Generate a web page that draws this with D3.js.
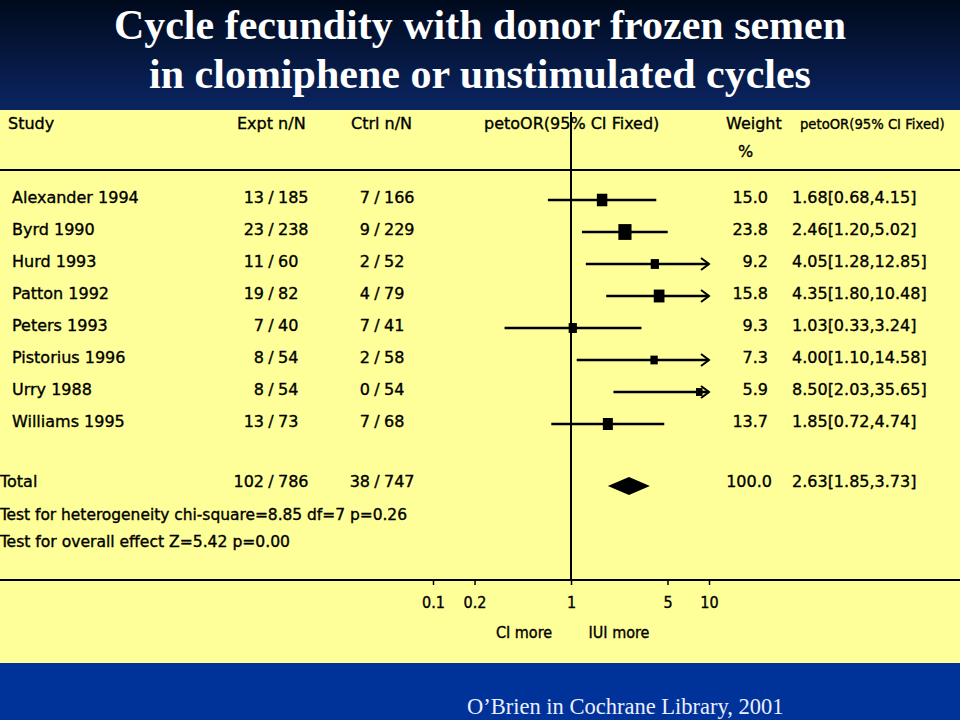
<!DOCTYPE html>
<html>
<head>
<meta charset="utf-8">
<script src="https://cdn.jsdelivr.net/npm/d3@7"></script>
<style>
  body { margin: 0; background: #000; }
  svg { display: block; }
</style>
</head>
<body>
<script>
const width = 960, height = 720;

// study rows
const studies = ["Alexander 1994", "Byrd 1990", "Hurd 1993", "Patton 1992", "Peters 1993", "Pistorius 1996", "Urry 1988", "Williams 1995"];
const exptEvents = [13, 23, 11, 19, 7, 8, 8, 13];
const exptTotals = [185, 238, 60, 82, 40, 54, 54, 73];
const ctrlEvents = [7, 9, 2, 4, 7, 2, 0, 7];
const ctrlTotals = [166, 229, 52, 79, 41, 58, 54, 68];
const weights = [15.0, 23.8, 9.2, 15.8, 9.3, 7.3, 5.9, 13.7];
const oddsRatio = [1.68, 2.46, 4.05, 4.35, 1.03, 4.00, 8.50, 1.85];
const ciLow = [0.68, 1.20, 1.28, 1.80, 0.33, 1.10, 2.03, 0.72];
const ciHigh = [4.15, 5.02, 12.85, 10.48, 3.24, 14.58, 35.65, 4.74];

// pooled result
const total = {expt: [102, 786], ctrl: [38, 747], weight: 100.0, or: 2.63, lo: 1.85, hi: 3.73};
const heterogeneity = "Test for heterogeneity chi-square=8.85 df=7 p=0.26";
const overall = "Test for overall effect Z=5.42 p=0.00";

const tickValues = [0.1, 0.2, 1, 5, 10];
const tickLabels = ["0.1", "0.2", "1", "5", "10"];

const rows = studies.map((s, i) => ({
    study: s, expt: [exptEvents[i], exptTotals[i]], ctrl: [ctrlEvents[i], ctrlTotals[i]],
    weight: weights[i], or: oddsRatio[i], lo: ciLow[i], hi: ciHigh[i]
}));

const svg = d3.select("body").append("svg")
    .attr("width", width)
    .attr("height", height);

// backgrounds
const grad = svg.append("defs").append("linearGradient")
    .attr("id", "titleGrad").attr("x1", 0).attr("y1", 0).attr("x2", 0).attr("y2", 1);
grad.append("stop").attr("offset", "0%").attr("stop-color", "#000a1c");
grad.append("stop").attr("offset", "100%").attr("stop-color", "#0b2562");

svg.append("rect").attr("width", width).attr("height", 110).attr("fill", "url(#titleGrad)");
svg.append("rect").attr("y", 110).attr("width", width).attr("height", 553).attr("fill", "#ffff99");
svg.append("rect").attr("y", 663).attr("width", width).attr("height", 57).attr("fill", "#003399");

// title
svg.append("g")
    .attr("font-family", "'Liberation Serif', 'Times New Roman', serif")
    .attr("font-weight", "bold")
    .attr("font-size", 42)
    .attr("fill", "#fff")
    .attr("text-anchor", "middle")
    .selectAll("text")
    .data(["Cycle fecundity with donor frozen semen", "in clomiphene or unstimulated cycles"])
    .join("text")
    .attr("x", 480)
    .attr("y", (d, i) => 39 + i * 49)
    .text(d => d);

svg.append("text")
    .attr("x", 467).attr("y", 714)
    .attr("font-family", "'Liberation Serif', serif")
    .attr("font-size", 22.5)
    .attr("fill", "#eef")
    .text("O\u2019Brien in Cochrane Library, 2001");

// scales
const x = d3.scaleLog().domain([0.1, 10]).range([433, 709]);
const y = d3.scalePoint().domain(studies).range([197, 421]);
const axisY = 580;
const totalY = 481;

const body = svg.append("g")
    .attr("font-family", "'DejaVu Sans', Verdana, sans-serif")
    .attr("font-size", 16)
    .attr("fill", "#000")
    .attr("stroke", "#000")
    .attr("stroke-width", 0.35);

// header
const headers = [
    {t: "Study", x: 8, y: 129},
    {t: "Expt n/N", x: 237, y: 129},
    {t: "Ctrl n/N", x: 351, y: 129},
    {t: "petoOR(95% CI Fixed)", x: 484, y: 129},
    {t: "Weight", x: 726, y: 129},
    {t: "%", x: 738, y: 157},
    {t: "petoOR(95% CI Fixed)", x: 800, y: 129, fs: 13.2}
];
body.selectAll(".hdr").data(headers).join("text")
    .attr("class", "hdr")
    .attr("x", d => d.x).attr("y", d => d.y)
    .attr("font-size", d => d.fs || null)
    .text(d => d.t);

body.append("line")
    .attr("x1", 0).attr("x2", width).attr("y1", 170).attr("y2", 170)
    .attr("stroke", "#000").attr("stroke-width", 2);

// vertical line of no effect
body.append("line")
    .attr("x1", x(1)).attr("x2", x(1)).attr("y1", 112).attr("y2", axisY)
    .attr("stroke", "#000").attr("stroke-width", 2);

// n/N cells aligned on the slash
function fraction(g, pair, slashX, yy) {
    g.append("text").attr("x", slashX - 7).attr("y", yy).attr("text-anchor", "end").text(pair[0]);
    g.append("text").attr("x", slashX).attr("y", yy).attr("text-anchor", "middle").text("/");
    g.append("text").attr("x", slashX + 7).attr("y", yy).text(pair[1]);
}

const fmt2 = d3.format(".2f");
const orText = d => `${fmt2(d.or)}[${fmt2(d.lo)},${fmt2(d.hi)}]`;

rows.forEach(d => {
    const yy = y(d.study) + 6;
    const g = body.append("g");
    g.append("text").attr("x", 12).attr("y", yy).text(d.study);
    fraction(g, d.expt, 271, yy);
    fraction(g, d.ctrl, 377, yy);
    g.append("text").attr("x", 768).attr("y", yy).attr("text-anchor", "end").text(d.weight.toFixed(1));
    g.append("text").attr("x", 792).attr("y", yy).text(orText(d));
});

// forest marks
const marks = body.append("g").attr("stroke-width", null);
const [xMin, xMax] = x.domain();
rows.forEach(d => {
    const cy = y(d.study) + 3;
    const x1 = x(Math.max(d.lo, xMin)), x2 = x(Math.min(d.hi, xMax));
    marks.append("line")
        .attr("x1", x1).attr("x2", x2).attr("y1", cy).attr("y2", cy)
        .attr("stroke", "#000").attr("stroke-width", 2.5);
    if (d.hi > xMax) {
        marks.append("path")
            .attr("d", `M${x2 - 8},${cy - 6}L${x2},${cy}L${x2 - 8},${cy + 6}`)
            .attr("fill", "none").attr("stroke", "#000").attr("stroke-width", 2);
    }
    const s = 2.7 * Math.sqrt(d.weight);
    marks.append("rect")
        .attr("x", x(d.or) - s / 2).attr("y", cy - s * 0.6)
        .attr("width", s).attr("height", s * 1.2)
        .attr("fill", "#000").attr("stroke", "none");
});

// total row
const tg = body.append("g");
tg.append("text").attr("x", 0).attr("y", totalY + 6).text("Total");
fraction(tg, total.expt, 271, totalY + 6);
fraction(tg, total.ctrl, 377, totalY + 6);
tg.append("text").attr("x", 772).attr("y", totalY + 6).attr("text-anchor", "end").text(total.weight.toFixed(1));
tg.append("text").attr("x", 792).attr("y", totalY + 6).text(orText(total));

const dy = totalY + 5;
marks.append("path")
    .attr("d", `M${x(total.lo)},${dy}L${x(total.or)},${dy - 9}L${x(total.hi)},${dy}L${x(total.or)},${dy + 9}Z`)
    .attr("fill", "#000").attr("stroke", "none");

body.append("g")
    .attr("font-family", "'DejaVu Sans Condensed', 'DejaVu Sans', sans-serif")
    .selectAll("text")
    .data([{t: heterogeneity, y: 520, w: 407}, {t: overall, y: 547, w: 290}])
    .join("text")
    .attr("x", 0).attr("y", d => d.y)
    .attr("textLength", d => d.w).attr("lengthAdjust", "spacingAndGlyphs")
    .text(d => d.t);

// axis
body.append("line")
    .attr("x1", 0).attr("x2", width).attr("y1", axisY).attr("y2", axisY)
    .attr("stroke", "#000").attr("stroke-width", 2);

const axis = body.append("g")
    .attr("transform", `translate(0,${axisY})`)
    .call(d3.axisBottom(x)
        .tickValues(tickValues)
        .tickFormat((d, i) => tickLabels[i])
        .tickSize(5)
        .tickPadding(12));
axis.select(".domain").remove();
axis.selectAll("line").attr("stroke", "#000").attr("stroke-width", 1.5);
axis.selectAll("text")
    .attr("font-family", "'DejaVu Sans Condensed', 'DejaVu Sans', sans-serif")
    .attr("font-size", 16)
    .attr("fill", "#000")
    .attr("stroke", "#000")
    .attr("stroke-width", 0.35);

body.append("g")
    .attr("font-family", "'DejaVu Sans Condensed', 'DejaVu Sans', sans-serif")
    .attr("text-anchor", "middle")
    .selectAll("text")
    .data([{t: "CI more", x: 524}, {t: "IUI more", x: 619}])
    .join("text")
    .attr("x", d => d.x).attr("y", 638)
    .text(d => d.t);
</script>
</body>
</html>
